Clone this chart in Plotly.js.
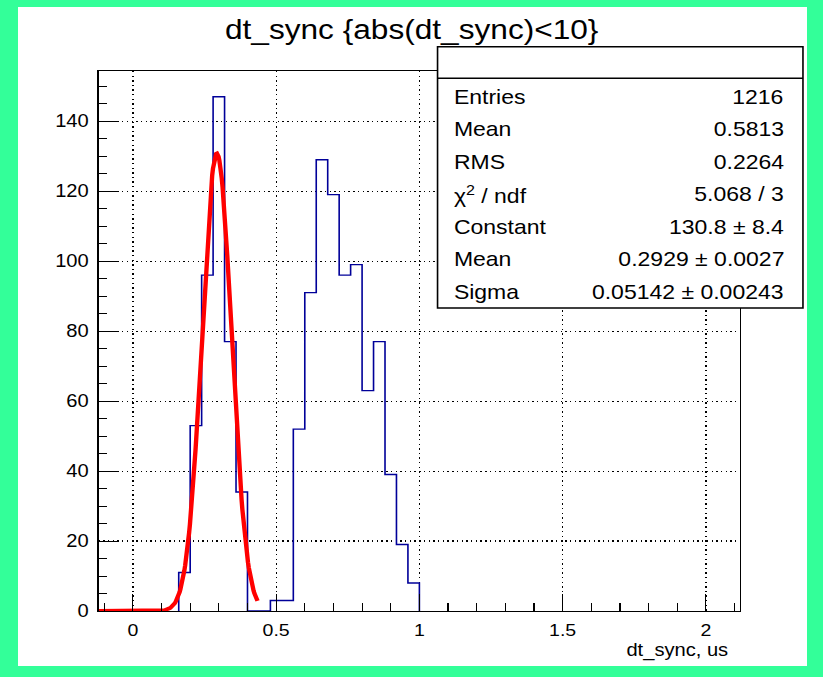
<!DOCTYPE html>
<html>
<head>
<meta charset="utf-8">
<script src="https://cdn.plot.ly/plotly-3.0.1.min.js"></script>
<style>
  html, body { margin: 0; padding: 0; background: #33ff99; width: 823px; height: 677px; overflow: hidden; }
  /* ROOT-style canvas: text glyphs are drawn wide, so the pad is stretched horizontally */
  #pad { position: absolute; left: 18px; top: 7px; width: 686px; height: 659px;
         transform: scaleX(1.1501); transform-origin: 0 0; background: #ffffff; }
</style>
</head>
<body>
<div id="pad"></div>
<script>
// Histogram of dt_sync (bin width 0.04, counts for the bins starting at 0.16)
const binWidth = 0.04;
const firstBinLow = 0.16;
const counts = [11, 53, 96, 147, 77, 34, 0, 0, 3, 3, 52, 91, 129, 119, 96, 99, 63, 77, 39, 19, 8];

// Axis ranges
const xRange = [-0.12, 2.12];
const xTickVals = [0, 0.5, 1, 1.5, 2];
const xTickText = ["0", "0.5", "1", "1.5", "2"];
const yTickVals = [0, 20, 40, 60, 80, 100, 120, 140];
const yTickText = ["0", "20", "40", "60", "80", "100", "120", "140"];

// Gaussian fit result and fit range
const fitConstant = 130.8;
const fitMean = 0.2929;
const fitSigma = 0.05142;
const fitRange = [-0.12, 0.435];

// Statistics box rows
const statLabels = ["Entries", "Mean", "RMS", "\u03c7<sup>2</sup> / ndf", "Constant", "Mean", "Sigma"];
const statValues = ["1216", "0.5813", "0.2264", "5.068 / 3",
                    fitConstant.toFixed(1) + " \u00b1 8.4",
                    fitMean.toFixed(4) + " \u00b1 0.0027",
                    fitSigma.toFixed(5) + " \u00b1 0.00243"];

// Outline of the histogram as a step line
const hx = [firstBinLow];
const hy = [0];
counts.forEach((c, i) => { hx.push(firstBinLow + i * binWidth); hy.push(c); });
const lastEdge = firstBinLow + counts.length * binWidth;
hx.push(lastEdge); hy.push(counts[counts.length - 1]);
hx.push(lastEdge); hy.push(0);

// Fit curve sampled across the fit range
const nFit = 200;
const fx = [], fy = [];
for (let i = 0; i <= nFit; i++) {
  const x = fitRange[0] + (fitRange[1] - fitRange[0]) * i / nFit;
  fx.push(x);
  fy.push(fitConstant * Math.exp(-0.5 * Math.pow((x - fitMean) / fitSigma, 2)));
}

const yMax = 1.05 * Math.max(...counts);

const FONT = "Liberation Sans, Arial, Helvetica, sans-serif";

const traces = [
  { x: hx, y: hy, type: "scatter", mode: "lines", line: { shape: "hv", color: "#000099", width: 1.4 }, hoverinfo: "skip" },
  { x: fx, y: fy, type: "scatter", mode: "lines", line: { color: "#ff0000", width: 3.8 }, hoverinfo: "skip" }
];

// Statistics box geometry (fractions of the plot area)
const box = { x0: 0.5283, x1: 1.0977, y0: 0.5610, y1: 1.0450, header: 0.9865 };
const rowY = [0.9519, 0.8918, 0.8316, 0.7715, 0.7114, 0.6512, 0.5911];
const textLeft = 0.551, textRight = 1.072;

const annotations = [];
statLabels.forEach((t, i) => {
  annotations.push({ xref: "paper", yref: "paper", x: textLeft, y: rowY[i], xanchor: "left", yanchor: "middle",
                     text: t, showarrow: false, font: { family: FONT, size: 20, color: "#000" } });
  annotations.push({ xref: "paper", yref: "paper", x: textRight, y: rowY[i], xanchor: "right", yanchor: "middle",
                     text: statValues[i], showarrow: false, font: { family: FONT, size: 20, color: "#000" } });
});
annotations.push({ xref: "paper", yref: "paper", x: 1 - 8 / 558, y: -0.0735, xanchor: "right", yanchor: "middle",
                   text: "dt_sync, us", showarrow: false, font: { family: FONT, size: 17.5, color: "#000" } });

const layout = {
  width: 686, height: 659,
  paper_bgcolor: "#ffffff", plot_bgcolor: "#ffffff",
  margin: { l: 69.8, r: 58.2, t: 64, b: 54.5, pad: 0 },
  showlegend: false,
  title: { text: "dt_sync {abs(dt_sync)<10}", x: 0.499, xanchor: "center", xref: "container",
           y: 1 - 22 / 659, yanchor: "middle", yref: "container",
           font: { family: FONT, size: 27.5, color: "#000" } },
  xaxis: {
    range: xRange, tickmode: "array", tickvals: xTickVals, ticktext: xTickText,
    ticks: "inside", ticklen: 17, tickwidth: 1, tickcolor: "#000",
    minor: { ticks: "inside", ticklen: 8.5, dtick: 0.1, tick0: 0, tickwidth: 1, tickcolor: "#000", showgrid: false },
    showline: true, linecolor: "#000", linewidth: 1, mirror: true,
    showgrid: true, gridcolor: "#000", gridwidth: 1.1, griddash: "1.3px,3.3px",
    zeroline: false, tickfont: { family: FONT, size: 17, color: "#000" }, ticklabelstandoff: 4
  },
  yaxis: {
    range: [0, yMax], tickmode: "array", tickvals: yTickVals, ticktext: yTickText,
    ticks: "inside", ticklen: 16.5, tickwidth: 1, tickcolor: "#000",
    minor: { ticks: "inside", ticklen: 7.8, dtick: 5, tick0: 0, tickwidth: 1, tickcolor: "#000", showgrid: false },
    showline: true, linecolor: "#000", linewidth: 1, mirror: true,
    showgrid: true, gridcolor: "#000", gridwidth: 1.1, griddash: "1.2px,2.9px",
    zeroline: false, tickfont: { family: FONT, size: 17.5, color: "#000" }, ticklabelstandoff: 4
  },
  shapes: [
    { type: "rect", xref: "paper", yref: "paper", x0: box.x0, x1: box.x1, y0: box.y0, y1: box.y1,
      line: { color: "#000", width: 1.4 }, fillcolor: "#ffffff", layer: "above" },
    { type: "line", xref: "paper", yref: "paper", x0: box.x0, x1: box.x1, y0: box.header, y1: box.header,
      line: { color: "#000", width: 1.4 }, layer: "above" }
  ],
  annotations: annotations
};

Plotly.newPlot("pad", traces, layout, { staticPlot: true, displayModeBar: false });
</script>
</body>
</html>
